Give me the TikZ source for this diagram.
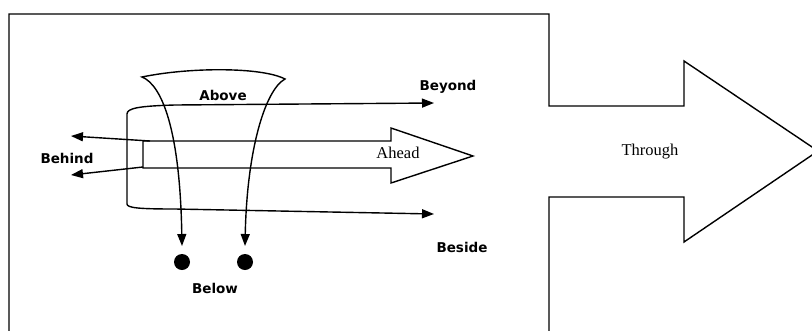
\documentclass[tikz,border=0pt]{standalone}
\usepackage{fontspec}
\setmainfont{Liberation Serif}
\newfontfamily\labfont{DejaVu Sans}
\usetikzlibrary{arrows.meta}
\begin{document}
\begin{tikzpicture}[x=1pt,y=-1pt,line width=1.4pt,
  tri/.tip={Triangle[length=12pt,width=9pt]},
  lab/.style={font=\labfont\bfseries\fontsize{13.5}{15}\selectfont,inner sep=0pt},
  serif/.style={font=\fontsize{16.5}{18}\selectfont,inner sep=0pt},
  dot/.style={circle,fill=black,minimum size=16pt,inner sep=0pt}]
\useasboundingbox (0,0) rectangle (812,330);
\clip (0,0) rectangle (812,330);
% frame with big arrow
\draw (9,332) -- (9,14) -- (549,14) -- (549,106) -- (684,106) -- (684,61)
  -- (818,151) -- (684,242) -- (684,197) -- (549,197) -- (549,332);
% Ahead arrow
\draw (143,141) -- (391,141) -- (391,128) -- (473,156) -- (391,183)
  -- (391,168) -- (143,168) -- cycle;
% named points
\coordinate (beyondTip) at (434,103);
\coordinate (besideTip) at (434,214);
\coordinate (bh1) at (71,136);
\coordinate (bh2) at (71,175);
\coordinate (s1) at (150,141);
\coordinate (s2) at (143,167);
\node[dot] (d1) at (182,262) {};
\node[dot] (d2) at (245,262) {};
\coordinate (a1) at (182,246);
\coordinate (a2) at (245,246);
% behind arrows
\draw[-tri] (s1) -- (bh1);
\draw[-tri] (s2) -- (bh2);
% bracket to Beyond / Beside
\draw[tri-tri] (beyondTip) -- (175,105) .. controls (140,106) and (127,108) .. (127,114)
  -- (127,204) .. controls (127,208) and (140,209) .. (175,209) -- (besideTip);
% funnel (Above) to Below
\draw[tri-tri] (a1) .. controls (180,130) and (162,85) .. (142,77)
  .. controls (190,67) and (262,67) .. (285,79)
  .. controls (265,90) and (247,150) .. (a2);
% labels
\node[lab] (above) at (223,95) {Above};
\node[lab] (beyond) at (448,87) {Beyond};
\node[lab] (behind) at (67,158) {Behind};
\node[lab] (beside) at (462,247) {Beside};
\node[lab] (below) at (215,288) {Below};
\node[serif] (ahead) at (398,153) {Ahead};
\node[serif] (through) at (650,152) {Through};
\end{tikzpicture}
\end{document}
